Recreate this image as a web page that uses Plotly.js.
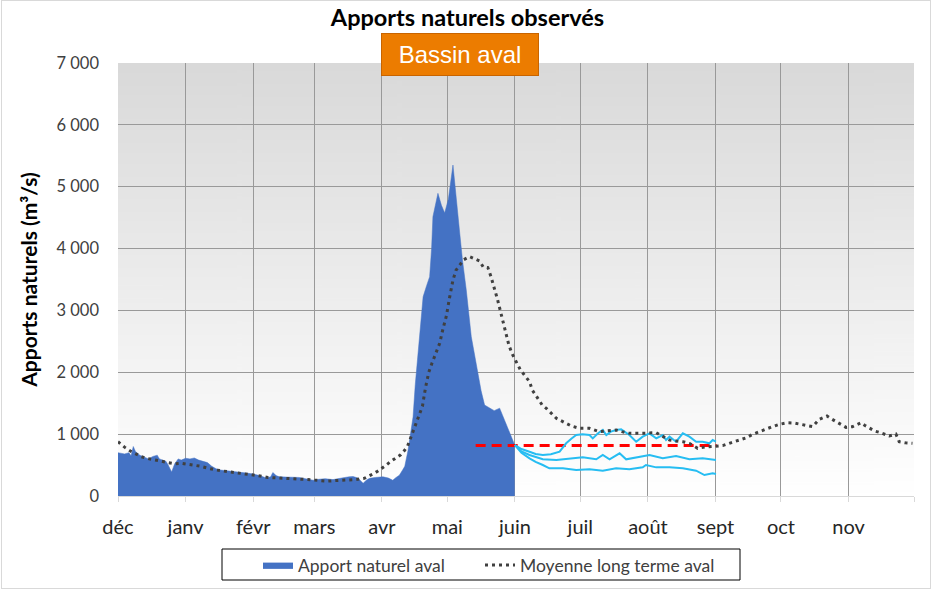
<!DOCTYPE html>
<html>
<head>
<meta charset="utf-8">
<script src="https://cdn.plot.ly/plotly-3.0.1.min.js"></script>
<style>
  html, body { margin: 0; padding: 0; background: #ffffff; }
  #wrap { position: relative; width: 935px; height: 590px; }
  #chart { position: absolute; left: 0; top: 0; width: 935px; height: 590px; }
  #frame { position: absolute; left: 1px; top: 0px; width: 928px; height: 587px; border: 1px solid #d9d9d9; pointer-events: none; }
</style>
</head>
<body>
<div id="wrap"><div id="chart"></div><div id="frame"></div></div>
<script>
// Month boundaries (days since 1 Dec) and labels
const monthStarts = [0, 31, 62, 90, 121, 151, 182, 212, 243, 274, 304, 335, 365];
const monthLabels = ['déc', 'janv', 'févr', 'mars', 'avr', 'mai', 'juin', 'juil', 'août', 'sept', 'oct', 'nov', ''];

// Observed natural inflow (aval)
const obsDays = [0, 1, 3, 5, 6, 7, 8, 10, 12, 14, 16, 18, 19, 21, 22, 23, 24.6, 26, 27.6, 29, 31, 33, 35, 37, 39, 41, 43, 45, 47, 50, 53, 56, 59, 62, 65, 68, 70, 71, 72.5, 74, 77, 80, 83, 86, 89.5, 92, 95, 98.6, 101, 104, 106, 107.8, 110, 112.4, 114, 115.4, 118, 121.5, 124, 126, 127.5, 129, 130.5, 131.5, 133, 134.2, 135.3, 136.3, 137.3, 138.3, 139.9, 141.5, 142.9, 143.8, 144.4, 146.7, 148.3, 149.8, 151.5, 153.6, 155, 156.7, 158, 159.7, 162, 164.9, 166.5, 168.1, 170.4, 172.5, 175, 177.3, 179.6, 181.9];
const obsValues = [700, 690, 680, 700, 650, 800, 720, 660, 630, 600, 640, 660, 600, 570, 560, 500, 390, 520, 600, 580, 610, 600, 615, 580, 560, 540, 480, 440, 420, 410, 400, 390, 370, 355, 330, 290, 310, 380, 330, 310, 305, 305, 300, 280, 255, 270, 280, 265, 285, 300, 310, 315, 290, 205, 260, 285, 300, 310, 290, 255, 300, 335, 420, 480, 740, 1000, 1280, 1800, 2200, 2470, 3220, 3400, 3545, 4000, 4515, 4893, 4700, 4575, 4800, 5350, 4900, 4250, 3800, 3330, 2575, 2000, 1700, 1470, 1420, 1380, 1420, 1230, 1035, 825];

// Long-term mean (aval)
const meanDays = [0, 3, 6, 8, 10.7, 13, 16.8, 20, 22.9, 26, 29, 32, 35.1, 38, 41.2, 45, 50.4, 55, 59.5, 64, 68.7, 73, 77.8, 82, 87, 91, 96.1, 100, 105.3, 109, 112.9, 115, 117.4, 119, 121.3, 123, 125.1, 127.5, 129.6, 131, 132.7, 135, 137.3, 139.6, 141, 142.5, 144, 145.5, 147.5, 149, 150.6, 152, 153.6, 155, 156.4, 158.5, 161.2, 163.5, 165.8, 167.5, 169.6, 171, 172.7, 174, 175.3, 176.5, 177.7, 179.3, 181, 184.5, 188.7, 190, 192.5, 194.5, 196.4, 199, 201, 205.5, 208, 211.6, 216.2, 220.8, 224, 228.4, 231, 234.5, 240.6, 246.8, 250, 252.9, 256, 259, 262, 265.8, 269, 272.7, 277.3, 281, 285, 288, 291, 294, 297.2, 300, 303.3, 307.1, 310, 312.4, 315, 318.5, 321.6, 325.1, 327, 329.2, 331.5, 333.8, 336.8, 339, 340.7, 342.5, 344.5, 347, 349.1, 351, 353.6, 356.7, 358.2, 361, 364.3];
const meanValues = [878, 790, 720, 680, 636, 610, 582, 560, 540, 520, 530, 515, 500, 480, 450, 420, 393, 375, 355, 330, 300, 295, 285, 275, 265, 250, 240, 250, 255, 265, 285, 320, 365, 400, 450, 500, 560, 620, 665, 720, 800, 1015, 1230, 1450, 1750, 2000, 2150, 2280, 2468, 2700, 2915, 3200, 3492, 3650, 3718, 3820, 3869, 3840, 3799, 3700, 3691, 3550, 3357, 3180, 2996, 2820, 2656, 2430, 2280, 2040, 1848, 1710, 1579, 1470, 1417, 1330, 1256, 1175, 1130, 1094, 1094, 1040, 1050, 1067, 1040, 1013, 1013, 1024, 960, 905, 890, 878, 850, 771, 790, 797, 815, 860, 905, 940, 997, 1040, 1078, 1120, 1159, 1185, 1180, 1164, 1150, 1121, 1240, 1293, 1250, 1201, 1150, 1110, 1121, 1160, 1185, 1140, 1094, 1050, 1030, 1000, 970, 1002, 878, 860, 852];

// Forecast scenarios (light blue)
const fcHighDays = [182, 185, 188.7, 191.5, 194.8, 198.5, 202.5, 205.5, 208, 210.1, 213, 216.2, 217.7, 220, 222.3, 223.9, 226, 228.4, 230.7, 232.5, 234.5, 237.6, 240.6, 243.7, 246.8, 249.8, 251.3, 252.9, 255.9, 259, 262, 265.1, 268.1, 271.2, 272.7, 274.2];
const fcHighValues = [824, 760, 716, 680, 663, 675, 716, 852, 930, 986, 1000, 986, 932, 1010, 1067, 986, 1040, 1067, 1078, 1030, 986, 878, 959, 1013, 932, 986, 905, 959, 878, 1013, 959, 878, 878, 852, 905, 878];
const fcMidDays = [182, 185, 188.7, 191.5, 194.8, 201, 207, 213.1, 219.3, 222.3, 225.4, 230, 233, 237.6, 243.7, 249.8, 255.9, 262, 268.1, 274.2];
const fcMidValues = [824, 720, 663, 625, 593, 582, 609, 625, 593, 663, 593, 690, 593, 625, 663, 609, 647, 593, 609, 582];
const fcLowDays = [182, 185, 188.7, 191.5, 194.8, 197.8, 204, 210.1, 216.2, 222.3, 228.4, 234.5, 240.6, 242.1, 246.8, 252.9, 259, 265.1, 268.9, 272.7, 274.2];
const fcLowValues = [824, 700, 609, 550, 501, 447, 447, 420, 431, 409, 447, 431, 463, 501, 463, 463, 447, 409, 339, 366, 355];

// Reference level (red dashed)
const refDays = [164, 274.5];
const refValues = [815, 815];

// Gradient background for the plot area
function gradientURL() {
  const c = document.createElement('canvas');
  c.width = 10; c.height = 400;
  const g = c.getContext('2d');
  const gr = g.createLinearGradient(0, 0, 0, 400);
  gr.addColorStop(0, '#d9d9d9');
  gr.addColorStop(1, '#ffffff');
  g.fillStyle = gr;
  g.fillRect(0, 0, 10, 400);
  return c.toDataURL('image/png');
}

const W = 935, H = 590, L = 118, R = 21, T = 63, B = 94;
const pw = W - L - R, ph = H - T - B;
const px = v => (v - L) / pw;       // pixel x -> paper x
const py = v => (H - B - v) / ph;   // pixel y -> paper y

const fcColor = '#26BDF2';
const traces = [
  { x: obsDays, y: obsValues, type: 'scatter', mode: 'lines', fill: 'tozeroy',
    fillcolor: '#4472C4', line: { color: '#4472C4', width: 0.5 }, name: 'Apport naturel aval',
    showlegend: true, legend: 'legend' },
  { x: refDays, y: refValues, type: 'scatter', mode: 'lines',
    line: { color: '#FF0000', width: 3, dash: '10px,6px' }, showlegend: false },
  { x: fcHighDays, y: fcHighValues, type: 'scatter', mode: 'lines', line: { color: fcColor, width: 2 }, showlegend: false },
  { x: fcMidDays, y: fcMidValues, type: 'scatter', mode: 'lines', line: { color: fcColor, width: 2 }, showlegend: false },
  { x: fcLowDays, y: fcLowValues, type: 'scatter', mode: 'lines', line: { color: fcColor, width: 2 }, showlegend: false },
  { x: meanDays, y: meanValues, type: 'scatter', mode: 'lines',
    line: { color: '#404040', width: 3, dash: '3px,4px' }, name: 'Moyenne long terme aval',
    showlegend: true, legend: 'legend2' }
];

const legendBase = {
  orientation: 'h', xanchor: 'left', xref: 'paper',
  y: 1 - 547 / H, yref: 'container', yanchor: 'top',
  bgcolor: 'rgba(0,0,0,0)', borderwidth: 0,
  font: { size: 17.5, color: '#404040' }
};

const layout = {
  width: W, height: H,
  margin: { l: L, r: R, t: T, b: B },
  paper_bgcolor: 'rgba(0,0,0,0)',
  plot_bgcolor: 'rgba(0,0,0,0)',
  separators: ', ',
  font: { family: 'Lato, "Open Sans", sans-serif', color: '#404040' },
  title: { text: '<b>Apports naturels observés</b>', x: 0.5, xref: 'container', xanchor: 'center',
    y: 1 - 18 / H, yref: 'container', yanchor: 'middle',
    font: { size: 23.5, color: '#000000', family: 'Lato, sans-serif' } },
  xaxis: {
    range: [0, 365], tickmode: 'array', tickvals: monthStarts, ticktext: monthLabels,
    showgrid: true, gridcolor: '#999999', gridwidth: 1,
    zeroline: false, showline: true, linecolor: '#d9d9d9', linewidth: 1, mirror: false,
    ticks: 'outside', ticklen: 5, tickcolor: '#d9d9d9',
    tickfont: { size: 20, color: '#262626' }, ticklabelstandoff: 8, fixedrange: true
  },
  yaxis: {
    range: [0, 7000], dtick: 1000, tick0: 0, tickformat: ',d',
    showgrid: true, gridcolor: '#999999', gridwidth: 1, zeroline: false,
    showline: false, ticks: '', tickfont: { size: 16.5, color: '#404040' }, ticklabelstandoff: 18,
    title: { text: '<b>Apports naturels (m³/s)</b>', font: { size: 21, color: '#000000' }, standoff: 13 },
    fixedrange: true
  },
  legend: Object.assign({}, legendBase, { x: px(258) }),
  legend2: Object.assign({}, legendBase, { x: px(480) }),
  shapes: [{
    type: 'rect', xref: 'paper', yref: 'paper', x0: px(222), x1: px(740), y0: py(549), y1: py(580),
    fillcolor: '#ffffff', line: { color: '#000000', width: 1 }, layer: 'above'
  }],
  images: [{ source: gradientURL(), xref: 'paper', yref: 'paper', x: 0, y: 1, sizex: 1, sizey: 1,
    xanchor: 'left', yanchor: 'top', sizing: 'stretch', layer: 'below' }],
  annotations: [{
    text: 'Bassin aval', xref: 'paper', yref: 'paper', x: px(460), y: py(54.5),
    xanchor: 'center', yanchor: 'middle', showarrow: false,
    font: { family: '"Liberation Sans", Arial, sans-serif', size: 24, color: '#ffffff' },
    bgcolor: '#EC7C00', bordercolor: '#C86400', borderwidth: 1, borderpad: 2, width: 152, height: 37
  }]
};

Plotly.newPlot('chart', traces, layout, { displayModeBar: false, staticPlot: true });
</script>
</body>
</html>
